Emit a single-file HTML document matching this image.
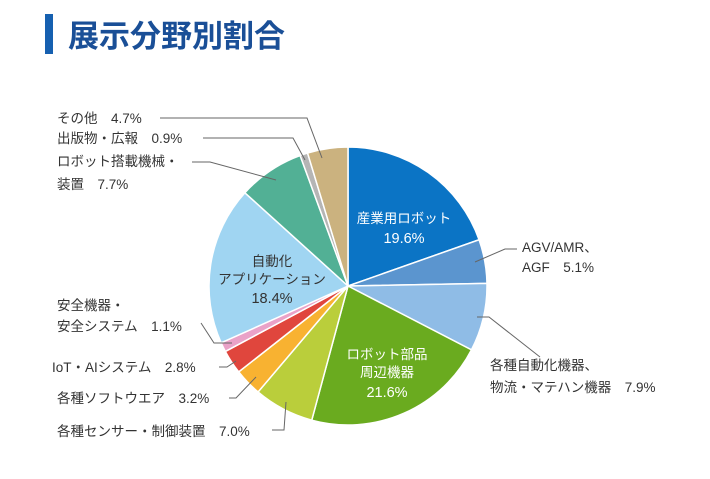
<!DOCTYPE html>
<html><head><meta charset="utf-8"><style>
body{margin:0;background:#fff;width:710px;height:474px;overflow:hidden;font-family:"Liberation Sans","Noto Sans CJK JP",sans-serif}
</style></head><body>
<svg id="s" width="710" height="474" xmlns="http://www.w3.org/2000/svg" font-family="Liberation Sans, Noto Sans CJK JP, sans-serif">
<rect x="45" y="14" width="8" height="40" fill="#1660b0"/>
<text x="68" y="47" font-size="31" font-weight="bold" fill="#1a4f97">展示分野別割合</text>
<g id="pie"></g>
<g stroke="#666" stroke-width="1" fill="none">
<polyline points="160,118 307,118 322,158"/>
<polyline points="203,138 293,138 305,160"/>
<polyline points="192,162 210,162 276,180"/>
<polyline points="517,249 505,249 475,262"/>
<polyline points="477,317 489,317 540,357"/>
<polyline points="201,323 214,343 232,343"/>
<polyline points="219,367 227,367 236,361"/>
<polyline points="229,398 236,398 256,377"/>
<polyline points="272,430 284,430 286,402"/>
</g>
<g font-size="13.5" fill="#333">
<text x="57" y="123">その他　4.7%</text>
<text x="57" y="143">出版物・広報　0.9%</text>
<text x="57" y="166">ロボット搭載機械・</text>
<text x="57" y="189">装置　7.7%</text>
<text x="522" y="252">AGV/AMR、</text>
<text x="522" y="272">AGF　5.1%</text>
<text x="490" y="370">各種自動化機器、</text>
<text x="490" y="392">物流・マテハン機器　7.9%</text>
<text x="57" y="310">安全機器・</text>
<text x="57" y="331">安全システム　1.1%</text>
<text x="52" y="372">IoT・AIシステム　2.8%</text>
<text x="57" y="403">各種ソフトウエア　3.2%</text>
<text x="57" y="436">各種センサー・制御装置　7.0%</text>
</g>
<g font-size="13.5" text-anchor="middle">
<text x="404" y="223" fill="#fff">産業用ロボット</text>
<text x="404" y="243" fill="#fff" font-size="14.5">19.6%</text>
<text x="272" y="266" fill="#333">自動化</text>
<text x="272" y="284" fill="#333">アプリケーション</text>
<text x="272" y="303" fill="#333" font-size="14.5">18.4%</text>
<text x="387" y="359" fill="#fff">ロボット部品</text>
<text x="387" y="377" fill="#fff">周辺機器</text>
<text x="387" y="397" fill="#fff" font-size="14.5">21.6%</text>
</g>
</svg>
<script>
var d=[[19.6,"#0b74c5"],[5.1,"#5b95cf"],[7.9,"#8fbce6"],[21.6,"#6aab1f"],[7.0,"#bace3b"],[3.2,"#f8b231"],[2.8,"#e0463d"],[1.1,"#eaa2c8"],[18.4,"#a0d5f2"],[7.7,"#52b095"],[0.9,"#b5b5b5"],[4.7,"#cbb27f"]];
var cx=348,cy=286,r=139,a=0,h="";
d.forEach(function(e){var a0=a*3.6*Math.PI/180;a+=e[0];var a1=a*3.6*Math.PI/180;
var x0=cx+r*Math.sin(a0),y0=cy-r*Math.cos(a0),x1=cx+r*Math.sin(a1),y1=cy-r*Math.cos(a1);
h+='<path d="M'+cx+','+cy+'L'+x0+','+y0+'A'+r+','+r+' 0 '+(e[0]>50?1:0)+' 1 '+x1+','+y1+'Z" fill="'+e[1]+'" stroke="#fff" stroke-width="1.5"/>';});
document.getElementById("pie").innerHTML=h;
</script>
</body></html>
